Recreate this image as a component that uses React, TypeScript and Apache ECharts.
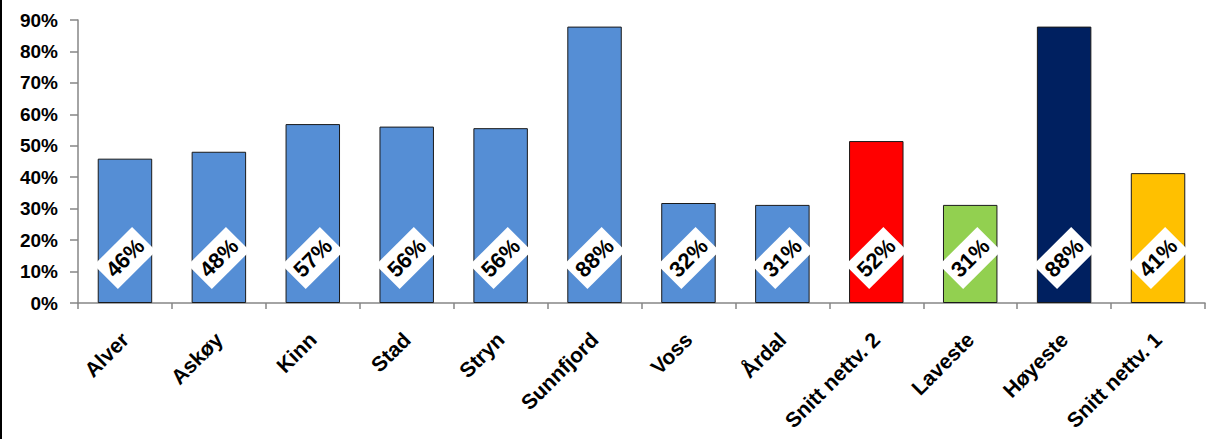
import React, { useEffect, useRef } from "react";
import * as echarts from "echarts";

const categories = [
  "Alver", "Askøy", "Kinn", "Stad", "Stryn", "Sunnfjord",
  "Voss", "Årdal", "Snitt nettv. 2", "Laveste", "Høyeste", "Snitt nettv. 1",
];
const values = [0.459, 0.481, 0.569, 0.561, 0.556, 0.879, 0.318, 0.312, 0.515, 0.312, 0.879, 0.413];
const barColors = [
  "#558ED5", "#558ED5", "#558ED5", "#558ED5", "#558ED5", "#558ED5",
  "#558ED5", "#558ED5", "#FF0000", "#92D050", "#002060", "#FFC000",
];
const yTicks = [0, 0.1, 0.2, 0.3, 0.4, 0.5, 0.6, 0.7, 0.8, 0.9];

export default function App() {
  const ref = useRef<HTMLDivElement>(null);
  useEffect(() => {
    document.body.style.margin = "0";
    const chart = echarts.init(ref.current!, null, { renderer: "svg" });
    chart.setOption({
      animation: false,
      backgroundColor: "#ffffff",
      grid: { left: 78, right: 11, top: 20, bottom: 136, containLabel: false },
      graphic: [
        { type: "rect", left: 0, top: 0, shape: { width: 2, height: 439 }, style: { fill: "#000" } },
      ],
      xAxis: {
        type: "category",
        data: categories,
        boundaryGap: true,
        axisLine: { lineStyle: { color: "#868686", width: 1.5 } },
        axisTick: { show: true, length: 6, alignWithLabel: false, lineStyle: { color: "#868686", width: 1.5 } },
        axisLabel: {
          rotate: 45,
          interval: 0,
          margin: 33,
          color: "#000",
          fontFamily: "Liberation Sans, Arial, sans-serif",
          fontWeight: "bold",
          fontSize: 21,
        },
      },
      yAxis: {
        type: "value",
        min: 0,
        max: 0.9,
        interval: 0.1,
        splitLine: { show: false },
        axisLine: { show: true, lineStyle: { color: "#868686", width: 1.5 } },
        axisTick: { show: true, length: 8, lineStyle: { color: "#868686", width: 1.5 } },
        axisLabel: {
          margin: 20,
          color: "#000",
          fontFamily: "Liberation Sans, Arial, sans-serif",
          fontWeight: "bold",
          fontSize: 19,
          formatter: (v: number) => {
            const t = yTicks.find((x) => Math.abs(x - v) < 1e-6);
            return t === undefined ? "" : Math.round(t * 100) + "%";
          },
        },
      },
      series: [
        {
          type: "bar",
          barCategoryGap: "42%",
          data: values.map((v, i) => ({
            value: v,
            itemStyle: { color: barColors[i], borderColor: "#1a1a1a", borderWidth: 1 },
          })),
          label: {
            show: true,
            position: "insideBottom",
            distance: 45,
            rotate: 45,
            align: "center",
            verticalAlign: "middle",
            backgroundColor: "#ffffff",
            padding: [6, 5],
            color: "#000",
            fontFamily: "Liberation Sans, Arial, sans-serif",
            fontWeight: "bold",
            fontSize: 22,
            formatter: (p: any) => Math.round(p.value * 100) + "%",
          },
        },
      ],
    });
    return () => chart.dispose();
  }, []);
  return <div ref={ref} style={{ width: 1216, height: 439 }} />;
}
